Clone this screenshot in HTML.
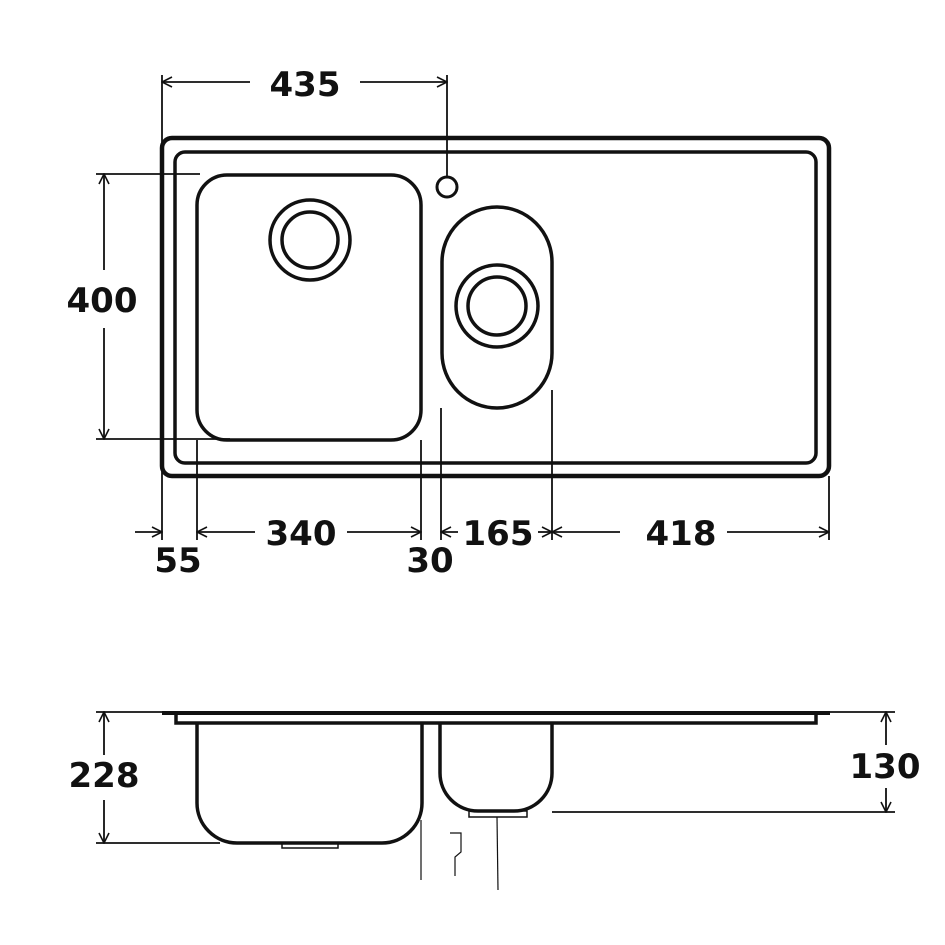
<!DOCTYPE html>
<html><head><meta charset="utf-8"><style>
html,body{margin:0;padding:0;background:#fff;}
svg{display:block;}
text{font-family:"DejaVu Sans","Liberation Sans",sans-serif;font-weight:bold;fill:#111;}
</style></head><body>
<svg width="945" height="945" viewBox="0 0 945 945" xmlns="http://www.w3.org/2000/svg">
<defs>
<marker id="a" viewBox="0 0 12 12" refX="11" refY="6" markerWidth="12" markerHeight="12" markerUnits="userSpaceOnUse" orient="auto"><path d="M1,1 L11,6 L1,11" fill="none" stroke="#111" stroke-width="1.6"/></marker>
</defs>
<g fill="none" stroke="#111">
<!-- top view -->
<rect x="162" y="138" width="667" height="338" rx="10" stroke-width="4.5"/>
<rect x="175" y="152" width="641" height="311" rx="10" stroke-width="3.5"/>
<rect x="197" y="175" width="224" height="265" rx="30" stroke-width="3.5"/>
<circle cx="310" cy="240" r="40" stroke-width="3.5"/>
<circle cx="310" cy="240" r="28" stroke-width="3.5"/>
<circle cx="447" cy="187" r="10" stroke-width="3"/>
<rect x="442" y="207" width="110" height="201" rx="55" stroke-width="3.5"/>
<circle cx="497" cy="306" r="41" stroke-width="3.5"/>
<circle cx="497" cy="306" r="29" stroke-width="3.5"/>
<!-- dims top -->
<g stroke-width="1.8">
<line x1="162" y1="75" x2="162" y2="540"/>
<line x1="447" y1="75" x2="447" y2="176"/>
<line x1="250" y1="82" x2="162" y2="82" marker-end="url(#a)"/>
<line x1="360" y1="82" x2="447" y2="82" marker-end="url(#a)"/>
<line x1="96" y1="174" x2="200" y2="174"/>
<line x1="96" y1="439" x2="230" y2="439"/>
<line x1="104" y1="270" x2="104" y2="174" marker-end="url(#a)"/>
<line x1="104" y1="328" x2="104" y2="439" marker-end="url(#a)"/>
<line x1="197" y1="440" x2="197" y2="540"/>
<line x1="421" y1="440" x2="421" y2="540"/>
<line x1="441" y1="408" x2="441" y2="540"/>
<line x1="552" y1="390" x2="552" y2="540"/>
<line x1="829" y1="476" x2="829" y2="540"/>
<line x1="135" y1="532" x2="162" y2="532" marker-end="url(#a)"/>
<line x1="255" y1="532" x2="197" y2="532" marker-end="url(#a)"/>
<line x1="347" y1="532" x2="421" y2="532" marker-end="url(#a)"/>
<line x1="458" y1="532" x2="441" y2="532" marker-end="url(#a)"/>
<line x1="538" y1="532" x2="552" y2="532" marker-end="url(#a)"/>
<line x1="620" y1="532" x2="552" y2="532" marker-end="url(#a)"/>
<line x1="727" y1="532" x2="829" y2="532" marker-end="url(#a)"/>
</g>
<!-- side view -->
<line x1="162" y1="713" x2="830" y2="713" stroke-width="4"/>
<polyline points="176,713 176,723 816,723 816,713" stroke-width="3.5"/>
<path d="M197,723 V803 A40,40 0 0 0 237,843 H382 A40,40 0 0 0 422,803 V723" stroke-width="3.5"/>
<rect x="282" y="843" width="56" height="5" stroke-width="1.5"/>
<path d="M440,723 V773 A38,38 0 0 0 478,811 H514 A38,38 0 0 0 552,773 V723" stroke-width="3.5"/>
<rect x="469" y="811" width="58" height="6" stroke-width="1.5"/>
<g stroke-width="1.8">
<line x1="96" y1="712" x2="176" y2="712"/>
<line x1="96" y1="843" x2="220" y2="843"/>
<line x1="104" y1="755" x2="104" y2="712" marker-end="url(#a)"/>
<line x1="104" y1="800" x2="104" y2="843" marker-end="url(#a)"/>
<line x1="830" y1="712" x2="895" y2="712"/>
<line x1="552" y1="812" x2="895" y2="812"/>
<line x1="886" y1="745" x2="886" y2="712" marker-end="url(#a)"/>
<line x1="886" y1="788" x2="886" y2="812" marker-end="url(#a)"/>
</g>
<g stroke-width="1.2">
<line x1="421" y1="820" x2="421" y2="880"/>
<line x1="497" y1="817" x2="498" y2="890"/>
<path d="M450,833 H461 V852 L455,857 V876"/>
</g>
</g>
<text x="305" y="96" font-size="34" text-anchor="middle">435</text>
<text x="102" y="312" font-size="34" text-anchor="middle">400</text>
<text x="301" y="545" font-size="34" text-anchor="middle">340</text>
<text x="498" y="545" font-size="34" text-anchor="middle">165</text>
<text x="681" y="545" font-size="34" text-anchor="middle">418</text>
<text x="178" y="572" font-size="34" text-anchor="middle">55</text>
<text x="430" y="572" font-size="34" text-anchor="middle">30</text>
<text x="104" y="787" font-size="34" text-anchor="middle">228</text>
<text x="885" y="778" font-size="34" text-anchor="middle">130</text>
</svg>
</body></html>
